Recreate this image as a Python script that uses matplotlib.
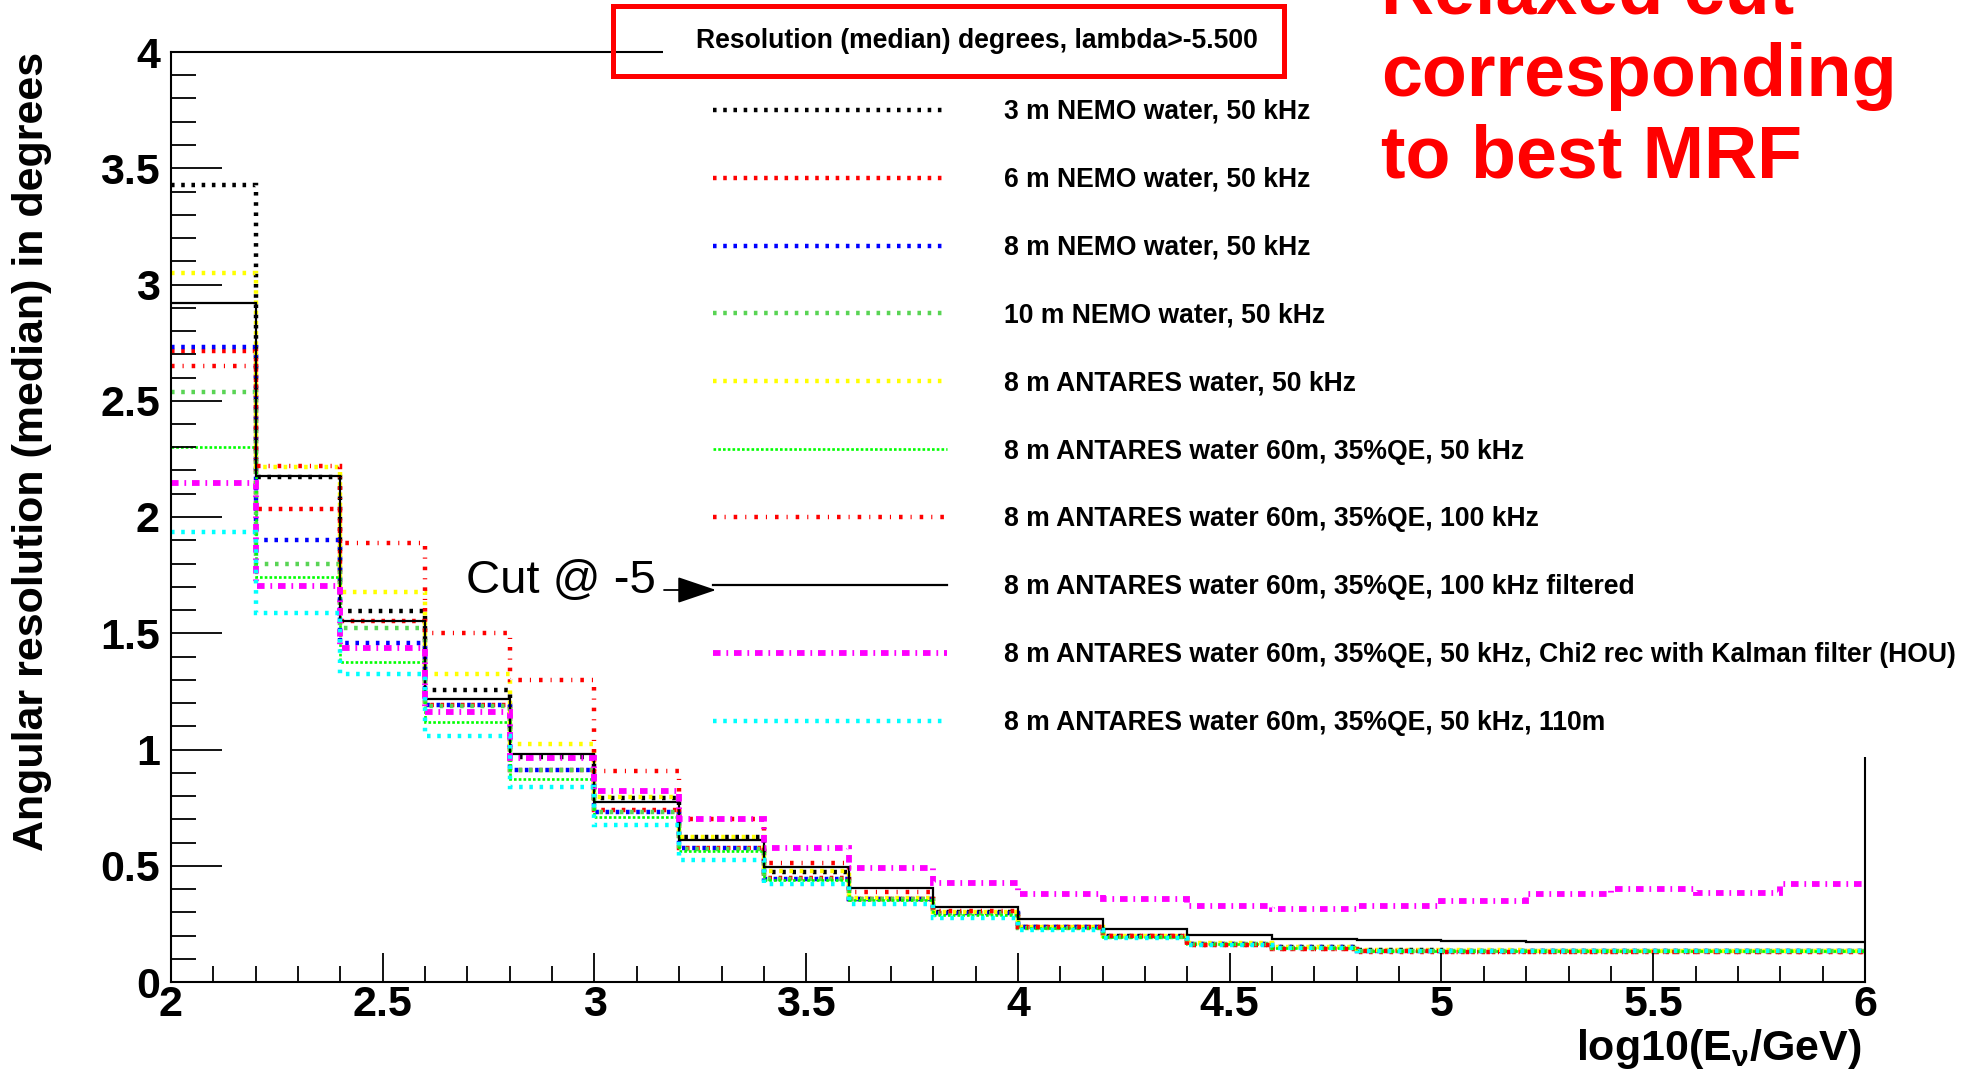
import numpy as np
import matplotlib
matplotlib.use("Agg")
import matplotlib.pyplot as plt
from matplotlib.patches import Rectangle
from matplotlib.ticker import MultipleLocator, FormatStrFormatter

plt.rcParams['font.family'] = ['Liberation Sans', 'DejaVu Sans']
plt.rcParams['font.weight'] = 'bold'
plt.rcParams['mathtext.fontset'] = 'custom'
plt.rcParams['mathtext.rm'] = 'Liberation Sans:bold'
plt.rcParams['mathtext.it'] = 'Liberation Sans:bold'
plt.rcParams['mathtext.bf'] = 'Liberation Sans:bold'

# energy bins, log10(E/GeV)
bin_edges = np.linspace(2.0, 6.0, 21)

# median angular resolution per bin, degrees
nemo_3m = [3.43, 2.173, 1.596, 1.256, 0.969, 0.790, 0.622, 0.475, 0.357, 0.300,
           0.236, 0.197, 0.165, 0.150, 0.137, 0.135, 0.134, 0.134, 0.133, 0.133]
nemo_6m = [2.715, 2.036, 1.553, 1.191, 0.912, 0.740, 0.578, 0.448, 0.358, 0.298,
           0.238, 0.196, 0.160, 0.142, 0.130, 0.128, 0.127, 0.127, 0.127, 0.127]
nemo_8m = [2.73, 1.90, 1.459, 1.191, 0.912, 0.733, 0.575, 0.443, 0.357, 0.298,
           0.235, 0.195, 0.163, 0.149, 0.135, 0.134, 0.133, 0.133, 0.133, 0.133]
nemo_10m = [2.536, 1.80, 1.524, 1.185, 0.912, 0.733, 0.572, 0.443, 0.355, 0.296,
            0.234, 0.194, 0.163, 0.148, 0.135, 0.133, 0.133, 0.132, 0.132, 0.132]
antares_50k = [3.05, 2.215, 1.679, 1.325, 1.024, 0.797, 0.625, 0.478, 0.360, 0.302,
               0.238, 0.199, 0.166, 0.152, 0.138, 0.136, 0.133, 0.133, 0.133, 0.133]
antares_60m = [2.30, 1.74, 1.378, 1.12, 0.872, 0.708, 0.565, 0.440, 0.352, 0.290,
               0.232, 0.193, 0.162, 0.148, 0.134, 0.133, 0.132, 0.132, 0.132, 0.132]
antares_100k = [2.65, 2.219, 1.887, 1.502, 1.299, 0.909, 0.700, 0.511, 0.388, 0.305,
                0.237, 0.196, 0.160, 0.143, 0.132, 0.130, 0.129, 0.129, 0.129, 0.129]
antares_100k_filt = [2.92, 2.178, 1.553, 1.216, 0.981, 0.776, 0.611, 0.496, 0.403, 0.321,
                     0.272, 0.227, 0.201, 0.186, 0.181, 0.176, 0.173, 0.173, 0.173, 0.173]
antares_kalman = [2.145, 1.705, 1.435, 1.163, 0.962, 0.822, 0.700, 0.578, 0.492, 0.427,
                  0.380, 0.356, 0.328, 0.314, 0.328, 0.348, 0.378, 0.399, 0.384, 0.420]
antares_110m = [1.937, 1.586, 1.325, 1.058, 0.837, 0.674, 0.525, 0.420, 0.335, 0.274,
                0.222, 0.190, 0.160, 0.146, 0.133, 0.133, 0.132, 0.132, 0.132, 0.132]

labels = [
    "3 m NEMO water, 50 kHz",
    "6 m NEMO water, 50 kHz",
    "8 m NEMO water, 50 kHz",
    "10 m NEMO water, 50 kHz",
    "8 m ANTARES water, 50 kHz",
    "8 m ANTARES water 60m, 35%QE, 50 kHz",
    "8 m ANTARES water 60m, 35%QE, 100 kHz",
    "8 m ANTARES water 60m, 35%QE, 100 kHz filtered",
    "8 m ANTARES water 60m, 35%QE, 50 kHz, Chi2 rec with Kalman filter (HOU)",
    "8 m ANTARES water 60m, 35%QE, 50 kHz, 110m",
]

dot = (0, (0.8, 1.5))
styles = [
    (nemo_3m, 'black', dot, 3.2),
    (nemo_6m, '#ff0000', dot, 3.2),
    (nemo_8m, '#0000ff', dot, 3.2),
    (nemo_10m, '#59d454', dot, 3.2),
    (antares_50k, '#ffff00', dot, 3.2),
    (antares_60m, '#00ff00', (0, (1, 0.8)), 1.9),
    (antares_100k, '#ff0000', (0, (0.8, 1.8, 0.25, 1.8)), 3.2),
    (antares_100k_filt, 'black', '-', 1.6),
    (antares_kalman, '#ff00ff', (0, (1.3, 1.0, 0.3, 1.0)), 4.2),
    (antares_110m, '#00ffff', dot, 3.2),
]

W, H = 1980, 1077
fig = plt.figure(figsize=(W / 100, H / 100), dpi=100)
ax = fig.add_axes([171 / W, 1 - 982 / H, (1865 - 171) / W, (982 - 52) / H])

handles = []
for (vals, col, ls, lw), lab in zip(styles, labels):
    h = ax.stairs(vals, bin_edges, baseline=None, color=col, linestyle=ls,
                  linewidth=lw, label=lab)
    handles.append(h)

ax.set_xlim(2, 6)
ax.set_ylim(0, 4)
ax.xaxis.set_major_locator(MultipleLocator(0.5))
ax.xaxis.set_minor_locator(MultipleLocator(0.1))
ax.yaxis.set_major_locator(MultipleLocator(0.5))
ax.yaxis.set_minor_locator(MultipleLocator(0.1))
ax.xaxis.set_major_formatter(FormatStrFormatter('%g'))
ax.yaxis.set_major_formatter(FormatStrFormatter('%g'))
ax.tick_params(axis='y', which='major', direction='in', length=37, width=1.3,
               labelsize=31, pad=8)
ax.tick_params(axis='y', which='minor', direction='in', length=18, width=1.3)
ax.tick_params(axis='x', which='major', direction='in', length=21, width=1.3,
               labelsize=31, pad=2)
ax.tick_params(axis='x', which='minor', direction='in', length=11.5, width=1.3)
for sp in ax.spines.values():
    sp.set_linewidth(1.5)

# white pad behind the legend, hides the upper right of the frame
ax.add_patch(Rectangle((663 / W, 1 - 757 / H), 1, 1, transform=fig.transFigure,
                       facecolor='white', edgecolor='none', clip_on=False, zorder=4))

leg = ax.legend(handles=handles, loc='upper left',
                bbox_to_anchor=(713 / W, 1 - 99 / H), bbox_transform=fig.transFigure,
                frameon=False, borderpad=0, borderaxespad=0, fontsize=19.1,
                handlelength=8.83, handletextpad=2.15, labelspacing=1.58)
leg.set_zorder(5)

# title pave
fig.patches.append(Rectangle((613 / W, 1 - 76 / H), 671 / W, 70 / H,
                             transform=fig.transFigure, facecolor='none',
                             edgecolor='#ff0000', linewidth=3.6))
fig.text(977 / W, 1 - 41 / H, "Resolution (median) degrees, lambda>-5.500",
         ha='center', va='center', fontsize=19.1)

fig.text(32 / W, 1 - 52 / H, "Angular resolution (median) in degrees",
         rotation=90, ha='center', va='top', fontsize=31)
fig.text(1862 / W, 1 - 1060 / H, r"log10(E$_{\nu}$/GeV)",
         ha='right', va='baseline', fontsize=31)

# cut annotation
fig.text(466 / W, 1 - 593 / H, "Cut @ -5", fontsize=34, fontweight='normal',
         ha='left', va='baseline')
ax.annotate('', xy=(716 / W, 1 - 590 / H), xytext=(664 / W, 1 - 590 / H),
            xycoords='figure fraction', textcoords='figure fraction',
            arrowprops=dict(arrowstyle='-|>,head_length=2.45,head_width=0.83',
                            mutation_scale=10, color='black', lw=1.3,
                            shrinkA=0, shrinkB=0),
            annotation_clip=False, zorder=6)

for txt, yb in [("Relaxed cut", 14), ("corresponding", 96), ("to best MRF", 177)]:
    fig.text(1381 / W, 1 - yb / H, txt, color='#ff0000', fontsize=53,
             ha='left', va='baseline')

fig.savefig('out.png', dpi=100)
